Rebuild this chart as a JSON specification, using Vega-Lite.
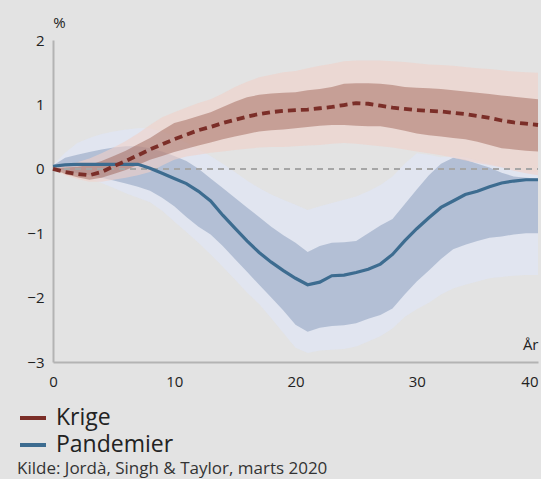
{
  "$schema": "https://vega.github.io/schema/vega-lite/v6.json",
  "autosize": "none",
  "width": 485,
  "height": 322,
  "padding": {"left": 53, "top": 40, "right": 3, "bottom": 117},
  "background": "#e3e3e3",
  "config": {
    "view": {"stroke": null},
    "font": "Open Sans",
    "axis": {"domainColor": "#b3b3b3", "domainWidth": 2, "ticks": false, "grid": false, "labelFont": "Open Sans", "labelFontSize": 15, "labelColor": "#222222", "titleFont": "Open Sans", "titleFontSize": 15, "titleFontWeight": "normal", "titleColor": "#222222"}
  },
  "title": {"text": "Kilde: Jordà, Singh & Taylor, marts 2020", "orient": "bottom", "anchor": "start", "frame": "group", "dx": -36, "offset": 4, "fontSize": 17, "fontWeight": "normal", "color": "#333333", "font": "Open Sans"},
  "datasets": {
    "d": [
      {"x":0,"s":"Pandemier","m":0.04,"l1":0.03,"h1":0.05,"l2":0.02,"h2":0.06},
      {"x":1,"s":"Pandemier","m":0.06,"l1":-0.03,"h1":0.17,"l2":-0.05,"h2":0.25},
      {"x":2,"s":"Pandemier","m":0.07,"l1":-0.07,"h1":0.22,"l2":-0.1,"h2":0.4},
      {"x":3,"s":"Pandemier","m":0.07,"l1":-0.1,"h1":0.26,"l2":-0.15,"h2":0.48},
      {"x":4,"s":"Pandemier","m":0.07,"l1":-0.14,"h1":0.3,"l2":-0.22,"h2":0.54},
      {"x":5,"s":"Pandemier","m":0.07,"l1":-0.18,"h1":0.33,"l2":-0.3,"h2":0.58},
      {"x":6,"s":"Pandemier","m":0.07,"l1":-0.23,"h1":0.35,"l2":-0.38,"h2":0.61},
      {"x":7,"s":"Pandemier","m":0.07,"l1":-0.28,"h1":0.35,"l2":-0.45,"h2":0.63},
      {"x":8,"s":"Pandemier","m":0.01,"l1":-0.34,"h1":0.32,"l2":-0.52,"h2":0.63},
      {"x":9,"s":"Pandemier","m":-0.07,"l1":-0.45,"h1":0.27,"l2":-0.65,"h2":0.58},
      {"x":10,"s":"Pandemier","m":-0.15,"l1":-0.58,"h1":0.2,"l2":-0.82,"h2":0.5},
      {"x":11,"s":"Pandemier","m":-0.23,"l1":-0.75,"h1":0.12,"l2":-0.98,"h2":0.4},
      {"x":12,"s":"Pandemier","m":-0.35,"l1":-0.9,"h1":0.0,"l2":-1.15,"h2":0.3},
      {"x":13,"s":"Pandemier","m":-0.5,"l1":-1.02,"h1":-0.15,"l2":-1.33,"h2":0.2},
      {"x":14,"s":"Pandemier","m":-0.72,"l1":-1.2,"h1":-0.3,"l2":-1.52,"h2":0.08},
      {"x":15,"s":"Pandemier","m":-0.92,"l1":-1.4,"h1":-0.45,"l2":-1.72,"h2":-0.05},
      {"x":16,"s":"Pandemier","m":-1.12,"l1":-1.6,"h1":-0.6,"l2":-1.92,"h2":-0.18},
      {"x":17,"s":"Pandemier","m":-1.3,"l1":-1.8,"h1":-0.75,"l2":-2.1,"h2":-0.3},
      {"x":18,"s":"Pandemier","m":-1.45,"l1":-2.0,"h1":-0.9,"l2":-2.32,"h2":-0.4},
      {"x":19,"s":"Pandemier","m":-1.58,"l1":-2.2,"h1":-1.03,"l2":-2.55,"h2":-0.48},
      {"x":20,"s":"Pandemier","m":-1.7,"l1":-2.42,"h1":-1.15,"l2":-2.78,"h2":-0.56},
      {"x":21,"s":"Pandemier","m":-1.8,"l1":-2.53,"h1":-1.29,"l2":-2.86,"h2":-0.64},
      {"x":22,"s":"Pandemier","m":-1.76,"l1":-2.47,"h1":-1.2,"l2":-2.82,"h2":-0.58},
      {"x":23,"s":"Pandemier","m":-1.66,"l1":-2.44,"h1":-1.15,"l2":-2.81,"h2":-0.53},
      {"x":24,"s":"Pandemier","m":-1.65,"l1":-2.43,"h1":-1.14,"l2":-2.8,"h2":-0.48},
      {"x":25,"s":"Pandemier","m":-1.61,"l1":-2.4,"h1":-1.12,"l2":-2.76,"h2":-0.43},
      {"x":26,"s":"Pandemier","m":-1.56,"l1":-2.33,"h1":-1.0,"l2":-2.68,"h2":-0.35},
      {"x":27,"s":"Pandemier","m":-1.48,"l1":-2.27,"h1":-0.88,"l2":-2.6,"h2":-0.25},
      {"x":28,"s":"Pandemier","m":-1.33,"l1":-2.17,"h1":-0.78,"l2":-2.48,"h2":-0.12},
      {"x":29,"s":"Pandemier","m":-1.12,"l1":-1.95,"h1":-0.55,"l2":-2.3,"h2":0.08},
      {"x":30,"s":"Pandemier","m":-0.93,"l1":-1.75,"h1":-0.32,"l2":-2.18,"h2":0.24},
      {"x":31,"s":"Pandemier","m":-0.76,"l1":-1.58,"h1":-0.1,"l2":-2.08,"h2":0.22},
      {"x":32,"s":"Pandemier","m":-0.6,"l1":-1.4,"h1":0.08,"l2":-1.95,"h2":0.18},
      {"x":33,"s":"Pandemier","m":-0.5,"l1":-1.25,"h1":0.17,"l2":-1.86,"h2":0.2},
      {"x":34,"s":"Pandemier","m":-0.4,"l1":-1.18,"h1":0.14,"l2":-1.8,"h2":0.18},
      {"x":35,"s":"Pandemier","m":-0.35,"l1":-1.12,"h1":0.08,"l2":-1.75,"h2":0.13},
      {"x":36,"s":"Pandemier","m":-0.28,"l1":-1.07,"h1":0.02,"l2":-1.7,"h2":0.08},
      {"x":37,"s":"Pandemier","m":-0.22,"l1":-1.05,"h1":-0.06,"l2":-1.68,"h2":0.03},
      {"x":38,"s":"Pandemier","m":-0.19,"l1":-1.02,"h1":-0.12,"l2":-1.66,"h2":0.0},
      {"x":39,"s":"Pandemier","m":-0.17,"l1":-1.0,"h1":-0.14,"l2":-1.65,"h2":-0.03},
      {"x":40,"s":"Pandemier","m":-0.17,"l1":-1.0,"h1":-0.15,"l2":-1.65,"h2":-0.05},
      {"x":0,"s":"Krige","m":0.0,"l1":0.0,"h1":0.01,"l2":-0.01,"h2":0.02},
      {"x":1,"s":"Krige","m":-0.05,"l1":-0.08,"h1":0.02,"l2":-0.1,"h2":0.06},
      {"x":2,"s":"Krige","m":-0.08,"l1":-0.13,"h1":0.03,"l2":-0.16,"h2":0.1},
      {"x":3,"s":"Krige","m":-0.1,"l1":-0.17,"h1":0.06,"l2":-0.2,"h2":0.16},
      {"x":4,"s":"Krige","m":-0.05,"l1":-0.14,"h1":0.12,"l2":-0.2,"h2":0.24},
      {"x":5,"s":"Krige","m":0.04,"l1":-0.08,"h1":0.2,"l2":-0.17,"h2":0.33},
      {"x":6,"s":"Krige","m":0.12,"l1":-0.02,"h1":0.28,"l2":-0.14,"h2":0.43},
      {"x":7,"s":"Krige","m":0.21,"l1":0.06,"h1":0.38,"l2":-0.1,"h2":0.55},
      {"x":8,"s":"Krige","m":0.3,"l1":0.14,"h1":0.48,"l2":-0.05,"h2":0.68},
      {"x":9,"s":"Krige","m":0.38,"l1":0.2,"h1":0.6,"l2":0.05,"h2":0.8},
      {"x":10,"s":"Krige","m":0.46,"l1":0.26,"h1":0.71,"l2":0.14,"h2":0.88},
      {"x":11,"s":"Krige","m":0.53,"l1":0.31,"h1":0.76,"l2":0.19,"h2":0.95},
      {"x":12,"s":"Krige","m":0.6,"l1":0.36,"h1":0.82,"l2":0.22,"h2":1.02},
      {"x":13,"s":"Krige","m":0.65,"l1":0.41,"h1":0.88,"l2":0.25,"h2":1.08},
      {"x":14,"s":"Krige","m":0.71,"l1":0.46,"h1":0.96,"l2":0.27,"h2":1.17},
      {"x":15,"s":"Krige","m":0.76,"l1":0.5,"h1":1.04,"l2":0.29,"h2":1.27},
      {"x":16,"s":"Krige","m":0.81,"l1":0.54,"h1":1.11,"l2":0.31,"h2":1.35},
      {"x":17,"s":"Krige","m":0.85,"l1":0.58,"h1":1.15,"l2":0.33,"h2":1.42},
      {"x":18,"s":"Krige","m":0.88,"l1":0.6,"h1":1.17,"l2":0.34,"h2":1.46},
      {"x":19,"s":"Krige","m":0.9,"l1":0.61,"h1":1.18,"l2":0.34,"h2":1.5},
      {"x":20,"s":"Krige","m":0.91,"l1":0.63,"h1":1.19,"l2":0.35,"h2":1.52},
      {"x":21,"s":"Krige","m":0.92,"l1":0.65,"h1":1.22,"l2":0.36,"h2":1.56},
      {"x":22,"s":"Krige","m":0.94,"l1":0.67,"h1":1.24,"l2":0.37,"h2":1.6},
      {"x":23,"s":"Krige","m":0.96,"l1":0.68,"h1":1.27,"l2":0.39,"h2":1.63},
      {"x":24,"s":"Krige","m":0.99,"l1":0.68,"h1":1.32,"l2":0.4,"h2":1.67},
      {"x":25,"s":"Krige","m":1.02,"l1":0.67,"h1":1.33,"l2":0.39,"h2":1.68},
      {"x":26,"s":"Krige","m":1.01,"l1":0.66,"h1":1.33,"l2":0.37,"h2":1.68},
      {"x":27,"s":"Krige","m":0.98,"l1":0.66,"h1":1.32,"l2":0.35,"h2":1.68},
      {"x":28,"s":"Krige","m":0.95,"l1":0.63,"h1":1.3,"l2":0.33,"h2":1.67},
      {"x":29,"s":"Krige","m":0.93,"l1":0.59,"h1":1.27,"l2":0.3,"h2":1.66},
      {"x":30,"s":"Krige","m":0.91,"l1":0.55,"h1":1.26,"l2":0.27,"h2":1.64},
      {"x":31,"s":"Krige","m":0.9,"l1":0.52,"h1":1.25,"l2":0.24,"h2":1.62},
      {"x":32,"s":"Krige","m":0.89,"l1":0.5,"h1":1.24,"l2":0.21,"h2":1.61},
      {"x":33,"s":"Krige","m":0.87,"l1":0.48,"h1":1.22,"l2":0.17,"h2":1.6},
      {"x":34,"s":"Krige","m":0.85,"l1":0.46,"h1":1.2,"l2":0.13,"h2":1.58},
      {"x":35,"s":"Krige","m":0.82,"l1":0.42,"h1":1.18,"l2":0.09,"h2":1.56},
      {"x":36,"s":"Krige","m":0.79,"l1":0.37,"h1":1.16,"l2":0.06,"h2":1.55},
      {"x":37,"s":"Krige","m":0.75,"l1":0.32,"h1":1.14,"l2":0.02,"h2":1.53},
      {"x":38,"s":"Krige","m":0.72,"l1":0.3,"h1":1.12,"l2":-0.03,"h2":1.51},
      {"x":39,"s":"Krige","m":0.7,"l1":0.28,"h1":1.1,"l2":-0.07,"h2":1.5},
      {"x":40,"s":"Krige","m":0.68,"l1":0.27,"h1":1.08,"l2":-0.1,"h2":1.49}
    ]
  },
  "data": {"name": "d"},
  "encoding": {
    "x": {"field": "x", "type": "quantitative", "scale": {"domain": [0, 40], "nice": false}, "axis": {"values": [0, 10, 20, 30, 40], "title": "År", "titleAnchor": "end", "titleAlign": "right", "titleY": -13, "titleBaseline": "alphabetic", "labelPadding": 12, "labelFlush": false, "labelAlign": {"condition": {"test": "datum.value === 40", "value": "right"}, "value": "center"}}}
  },
  "layer": [
    {
      "transform": [{"filter": "datum.s === 'Pandemier'"}],
      "mark": {"type": "area", "color": "#dfe5f5", "opacity": 0.7},
      "encoding": {"y": {"field": "l2", "type": "quantitative", "scale": {"domain": [-3, 2], "nice": false}, "axis": {"values": [-3, -2, -1, 0, 1, 2], "format": "d", "title": "%", "titleAngle": 0, "titleX": 6, "titleY": -13, "titleAlign": "center", "titleBaseline": "alphabetic", "labelPadding": 9}}, "y2": {"field": "h2"}}
    },
    {
      "transform": [{"filter": "datum.s === 'Pandemier'"}],
      "mark": {"type": "area", "color": "#6f87ad", "opacity": 0.4},
      "encoding": {"y": {"field": "l1", "type": "quantitative"}, "y2": {"field": "h1"}}
    },
    {
      "transform": [{"filter": "datum.s === 'Krige'"}],
      "mark": {"type": "area", "color": "#f0d0c8", "opacity": 0.6},
      "encoding": {"y": {"field": "l2", "type": "quantitative"}, "y2": {"field": "h2"}}
    },
    {
      "transform": [{"filter": "datum.s === 'Krige'"}],
      "mark": {"type": "area", "color": "#8f4a3c", "opacity": 0.4},
      "encoding": {"y": {"field": "l1", "type": "quantitative"}, "y2": {"field": "h1"}}
    },
    {
      "mark": {"type": "rule", "color": "#a6a6a6", "strokeDash": [6, 5], "strokeWidth": 1.5},
      "encoding": {"y": {"datum": 0, "type": "quantitative"}, "x": {"datum": 0, "type": "quantitative"}, "x2": {"datum": 40}}
    },
    {
      "transform": [{"filter": "datum.s === 'Pandemier'"}],
      "mark": {"type": "line", "strokeWidth": 3.2, "color": "#3d6c90"},
      "encoding": {"y": {"field": "m", "type": "quantitative"}}
    },
    {
      "transform": [{"filter": "datum.s === 'Krige'"}],
      "mark": {"type": "line", "strokeWidth": 3.8, "color": "#7b2e28", "strokeDash": [8, 5]},
      "encoding": {"y": {"field": "m", "type": "quantitative"}}
    },
    {
      "mark": {"type": "line", "strokeOpacity": 0, "strokeWidth": 0},
      "encoding": {
        "y": {"field": "m", "type": "quantitative"},
        "color": {"field": "s", "type": "nominal", "scale": {"domain": ["Krige", "Pandemier"], "range": ["#7b2e28", "#3d6c90"]}, "legend": {"title": null, "orient": "none", "legendX": -35, "legendY": 363, "direction": "vertical", "symbolType": "stroke", "symbolSize": 676, "symbolStrokeWidth": 4, "symbolOpacity": 1, "labelFontSize": 23, "labelFont": "Open Sans", "labelColor": "#222222", "labelOffset": 8, "rowPadding": 0, "encode": {"symbols": {"update": {"strokeOpacity": {"value": 1}, "opacity": {"value": 1}, "strokeWidth": {"value": 4}}}}}}
      }
    }
  ]
}
